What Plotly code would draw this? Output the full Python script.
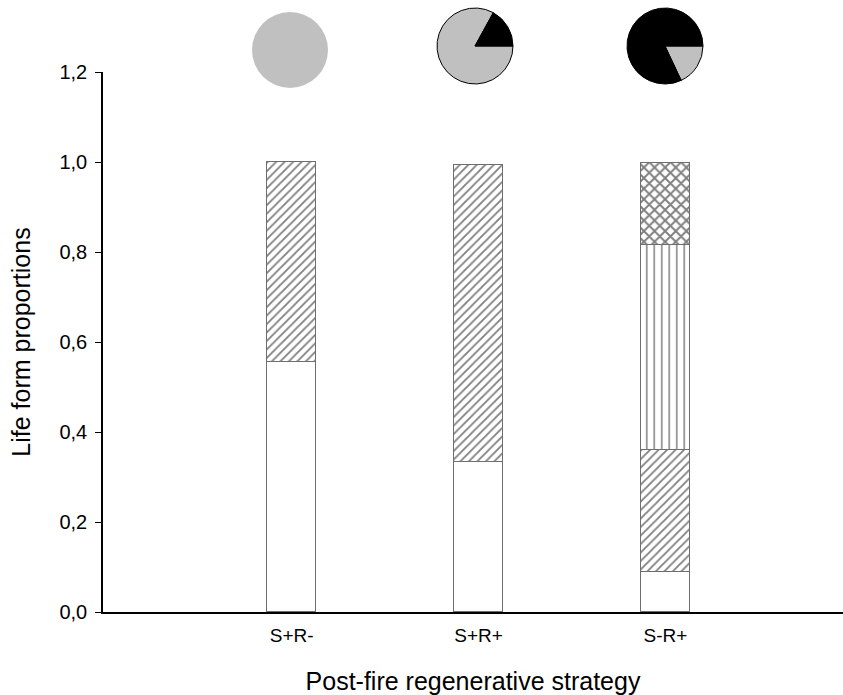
import plotly.graph_objects as go

# Post-fire regenerative strategies and life-form proportions per strategy
categories = ["S+R-", "S+R+", "S-R+"]
plain_share = [0.555, 0.333, 0.089]      # open (white) segment
diagonal_share = [0.445, 0.660, 0.271]   # diagonal hatched segment
vertical_share = [None, None, 0.456]     # vertical-line segment
crossed_share = [None, None, 0.182]      # cross-hatched segment

# Pie proportions above each bar (grey vs black)
pie_grey = [1.0, 0.83, 0.18]
pie_black = [0.0, 0.17, 0.82]

y_ticks = [0.0, 0.2, 0.4, 0.6, 0.8, 1.0, 1.2]

W, H = 843, 695
ML, MR, MT, MB = 103, 0, 0, 83
plot_w = W - ML - MR
plot_h = H - MT - MB
y_top_px = 72  # pixel row of the 1,2 tick
x_range = [-1.01, 2.95]

fig = go.Figure()

bar_line = dict(color="#6e6e6e", width=1)
segments = [
    (plain_share, dict(shape="", fgcolor="black", bgcolor="white")),
    (diagonal_share, dict(shape="/", size=6, solidity=0.3, fgcolor="black", bgcolor="white")),
    (vertical_share, dict(shape="|", size=7.5, solidity=0.2, fgcolor="black", bgcolor="white")),
    (crossed_share, dict(shape="x", size=7.5, solidity=0.45, fgcolor="black", bgcolor="white")),
]
for vals, pat in segments:
    fig.add_trace(go.Bar(
        x=categories, y=vals, width=0.262,
        marker=dict(color="white", line=bar_line, pattern=pat),
        showlegend=False, hoverinfo="skip",
    ))

# Pies positioned over the bars; grey slice starts at 3 o'clock going clockwise
pie_px = [(290, 50, 38), (475, 46, 38), (665, 46, 38)]
for i, (cx, cy, r) in enumerate(pie_px):
    x0 = (cx - r - ML) / plot_w
    x1 = (cx + r - ML) / plot_w
    y0 = (H - MB - (cy + r)) / plot_h
    y1 = (H - MB - (cy - r)) / plot_h
    fig.add_trace(go.Pie(
        values=[pie_grey[i], pie_black[i]],
        labels=["grey", "black"],
        marker=dict(colors=["#c0c0c0", "black"],
                    line=dict(color="black", width=0 if i == 0 else 1)),
        sort=False, direction="clockwise", rotation=90,
        textinfo="none", hoverinfo="skip", showlegend=False,
        domain=dict(x=[x0, x1], y=[y0, min(y1, 1.0)]),
    ))

fig.update_layout(
    width=W, height=H,
    margin=dict(l=ML, r=MR, t=MT, b=MB, autoexpand=False),
    barmode="stack", bargap=0,
    plot_bgcolor="white", paper_bgcolor="white",
    separators=", ",
    font=dict(family="Liberation Sans, Arial, sans-serif", color="black"),
    xaxis=dict(
        range=x_range, showline=True, linecolor="black", linewidth=2,
        ticks="", showgrid=False, zeroline=False,
        tickfont=dict(size=19), ticklabelstandoff=5,
        title=dict(text="Post-fire regenerative strategy", font=dict(size=25), standoff=30),
    ),
    yaxis=dict(
        range=[0, 1.2], domain=[0, (H - MB - y_top_px) / plot_h],
        tickvals=y_ticks, tickformat=".1f",
        showline=True, linecolor="black", linewidth=1.5,
        ticks="outside", ticklen=6, tickwidth=1.2, tickcolor="black",
        showgrid=False, zeroline=False,
        tickfont=dict(size=20), ticklabelstandoff=4,
        title=dict(text="Life form proportions", font=dict(size=25), standoff=22),
    ),
)

fig.write_html("out.html")
